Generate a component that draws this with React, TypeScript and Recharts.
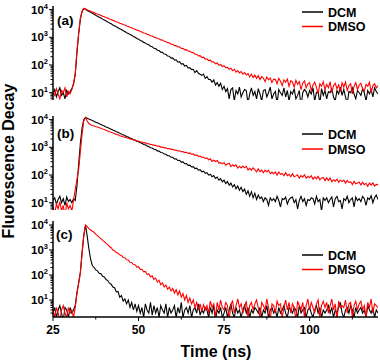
import React from 'react';
import { LineChart, Line, XAxis, YAxis } from 'recharts';

// time grid: 25 ns to 120 ns, 0.5 ns per channel
const T_START = 25;
const T_STEP = 0.5;

// (a) counts
const A_DCM = [
  9, 13, 7, 11, 15, 8, 10, 6, 12, 9,
  11, 14, 20, 45, 280, 1300, 4600, 8500, 11000, 10300,
  9350, 8600, 8000, 7330, 6810, 6250, 5800, 5320, 4950, 4530,
  4210, 3860, 3600, 3290, 3070, 2800, 2620, 2390, 2230, 2040,
  1900, 1730, 1620, 1470, 1385, 1255, 1180, 1070, 1010, 910,
  860, 770, 735, 655, 628, 558, 535, 475, 458, 403,
  392, 342, 334, 290, 286, 248, 244, 210, 208, 178,
  180, 150, 154, 126, 131, 108, 112, 92, 96, 78,
  80, 68, 70, 53, 62, 50, 46, 42, 47, 33,
  38, 30, 30, 24, 29, 19, 23, 17, 22, 13,
  17, 11, 14, 6, 13, 15, 5, 12, 9, 16,
  7, 10, 13, 12, 4, 9, 15, 8, 11, 6,
  14, 9, 5, 12, 13, 7, 10, 16, 6, 9,
  11, 4, 13, 10, 8, 15, 7, 12, 5, 11,
  9, 14, 6, 8, 12, 3, 10, 13, 11, 7,
  12, 9, 15, 5, 10, 11, 4, 14, 8, 12,
  6, 11, 10, 14, 7, 5, 12, 9, 16, 8,
  13, 7, 4, 11, 10, 15, 9, 6, 12, 10,
  8, 14, 10, 5, 12, 9, 13, 7, 15, 11,
  9,
];
const A_DMSO = [
  11, 8, 14, 9, 6, 12, 10, 15, 7, 11,
  9, 13, 22, 50, 320, 1450, 4800, 8700, 11000, 10600,
  9800, 9180, 8750, 8190, 7790, 7280, 6950, 6500, 6200, 5790,
  5530, 5150, 4930, 4590, 4390, 4080, 3910, 3640, 3490, 3240,
  3110, 2890, 2770, 2570, 2470, 2290, 2210, 2040, 1965, 1815,
  1755, 1620, 1565, 1440, 1395, 1280, 1245, 1140, 1110, 1015,
  990, 900, 885, 805, 790, 715, 705, 635, 630, 565,
  562, 502, 503, 447, 450, 396, 402, 352, 359, 313,
  318, 281, 279, 244, 245, 214, 218, 186, 192, 163,
  168, 144, 149, 127, 131, 110, 118, 98, 104, 88,
  94, 80, 82, 70, 77, 62, 70, 55, 63, 52,
  58, 47, 53, 44, 49, 37, 47, 35, 43, 33,
  41, 30, 38, 33, 25, 37, 29, 34, 23, 31,
  30, 21, 33, 26, 18, 29, 24, 31, 17, 27,
  24, 16, 28, 20, 25, 13, 22, 27, 15, 21,
  23, 12, 19, 24, 16, 9, 21, 17, 25, 13,
  20, 15, 25, 10, 18, 22, 14, 19, 11, 23,
  16, 24, 12, 18, 21, 9, 17, 23, 13, 19,
  22, 14, 11, 20, 17, 24, 10, 18, 21, 15,
  18,
];

// (b) counts
const B_DCM = [
  12, 15, 9, 13, 17, 10, 14, 8, 16, 11,
  13, 10, 14, 12, 40, 250, 1400, 5000, 10000, 12000,
  11300, 10500, 9900, 9220, 8690, 8080, 7630, 7080, 6690, 6210,
  5870, 5440, 5150, 4770, 4520, 4180, 3960, 3670, 3475, 3215,
  3050, 2815, 2675, 2465, 2350, 2160, 2060, 1890, 1810, 1655,
  1590, 1450, 1395, 1268, 1225, 1108, 1075, 970, 945, 850,
  830, 742, 730, 650, 641, 570, 563, 498, 495, 436,
  435, 380, 383, 333, 337, 291, 296, 255, 260, 223,
  228, 195, 201, 170, 177, 149, 156, 131, 137, 114,
  121, 99, 107, 86, 95, 75, 84, 65, 74, 57,
  65, 49, 58, 43, 51, 37, 45, 32, 40, 28,
  36, 25, 31, 20, 27, 17, 25, 15, 22, 13,
  19, 14, 16, 11, 15, 13, 8, 15, 12, 14,
  11, 17, 12, 7, 14, 13, 16, 9, 13, 15,
  16, 10, 13, 6, 12, 17, 11, 14, 8, 13,
  12, 15, 14, 9, 17, 11, 13, 5, 15, 12,
  15, 10, 13, 16, 7, 14, 17, 11, 12, 6,
  14, 12, 17, 10, 13, 15, 7, 16, 12, 14,
  11, 17, 14, 8, 15, 13, 18, 10, 15, 19,
  13,
];
const B_DMSO = [
  7, 4, 9, 6, 11, 5, 8, 3, 10, 6,
  8, 5, 12, 30, 70, 160, 700, 3000, 9000, 12000,
  8900, 7240, 6480, 6150, 5910, 5600, 5390, 5110, 4860, 4600,
  4380, 4100, 3910, 3650, 3490, 3270, 3140, 2930, 2820, 2630,
  2530, 2390, 2330, 2200, 2150, 2020, 1980, 1860, 1820, 1710,
  1680, 1580, 1560, 1470, 1450, 1360, 1350, 1260, 1260, 1170,
  1170, 1090, 1100, 1020, 1030, 955, 965, 895, 905, 840,
  850, 785, 800, 735, 750, 690, 705, 645, 660, 605,
  625, 560, 575, 510, 530, 470, 485, 430, 445, 395,
  412, 354, 387, 310, 340, 307, 333, 268, 279, 252,
  283, 225, 248, 265, 202, 235, 207, 231, 177, 208,
  181, 209, 181, 205, 152, 175, 151, 180, 157, 130,
  166, 131, 149, 120, 150, 129, 150, 112, 126, 112,
  130, 99, 129, 106, 113, 94, 121, 95, 106, 86,
  111, 86, 93, 102, 77, 96, 84, 102, 77, 88,
  81, 94, 71, 86, 73, 89, 67, 77, 81, 63,
  79, 63, 79, 57, 67, 60, 71, 55, 65, 58,
  65, 51, 64, 53, 57, 45, 59, 48, 51, 55,
  44, 55, 45, 50, 39, 51, 43, 52, 40, 46,
  45,
];

// (c) counts
const C_DCM = [
  3, 5, 2, 4, 6, 3, 1.5, 5, 4, 2,
  5, 3, 4, 6, 20, 50, 130, 800, 4000, 10000,
  3500, 1100, 420, 240, 200, 160, 146, 118, 112, 88,
  84, 66, 60, 47, 43, 33, 31, 21, 22, 13,
  15, 9, 11, 7, 10, 5, 8, 4, 7, 3.5,
  6, 3, 5, 2, 7, 4, 3, 8, 2.5, 6,
  3, 5, 2, 6, 4, 3, 7, 2, 5, 3,
  4, 6, 2, 5, 3, 8, 2, 4, 5, 3,
  6, 2, 4, 5, 3, 7, 2.5, 4, 3, 5,
  4, 2, 5, 3, 6, 1.5, 4, 3, 5, 2,
  3, 5, 2, 4, 7, 3, 2, 5, 3, 4,
  2, 4, 6, 3, 5, 2, 4, 3, 5, 4,
  3, 5, 2, 4, 3, 6, 2, 4, 5, 3,
  4, 2, 5, 3, 4, 6, 3, 2, 5, 4,
  3, 5, 4, 2, 6, 3, 4, 5, 2, 4,
  5, 3, 2, 4, 6, 3, 5, 2, 4, 3,
  4, 6, 3, 5, 2, 4, 3, 5, 8, 3,
  2, 4, 5, 3, 6, 4, 2, 5, 3, 4,
  5, 3, 4, 2, 6, 4, 3, 5, 2, 4,
  3,
];
const C_DMSO = [
  4, 2, 5, 3, 1.5, 4, 6, 3, 2, 5,
  3, 4, 2, 5, 18, 45, 120, 700, 3600, 10000,
  8600, 7200, 6300, 5600, 5100, 4340, 3750, 3210, 2850, 2420,
  2170, 1830, 1650, 1380, 1230, 995, 935, 790, 745, 640,
  610, 505, 490, 405, 400, 322, 318, 262, 258, 206,
  214, 166, 170, 134, 140, 106, 111, 83, 92, 67,
  75, 52, 62, 41, 48, 33, 40, 27, 33, 23,
  29, 19, 26, 16, 23, 13, 18, 10, 15, 8,
  12, 7, 10, 5, 8, 4, 7, 3.5, 6.5, 4,
  6, 3, 9, 5, 7, 2, 8, 4, 10, 5,
  4, 8, 6, 1.5, 7, 9, 3, 6, 11, 5,
  7, 3, 5, 9, 2, 6, 8, 4, 7, 10,
  5, 2, 8, 6, 4, 11, 5, 1.5, 7, 6,
  3, 9, 6, 7, 2, 5, 10, 4, 8, 3,
  7, 5, 1.5, 9, 6, 4, 8, 2, 6, 11,
  4, 8, 5, 3, 7, 10, 2, 6, 9, 5,
  8, 3, 6, 11, 4, 7, 1.5, 9, 5, 6,
  5, 10, 3, 7, 8, 2, 6, 9, 4, 7,
  9, 4, 6, 2, 8, 5, 11, 3, 7, 6,
  5,
];

const X_TICKS = [25, 37.5, 50, 62.5, 75, 87.5, 100, 112.5];
const X_LABELED = [25, 50, 75, 100];
const Y_TICKS_AB = [6, 7, 8, 9, 10, 20, 30, 40, 50, 60, 70, 80, 90, 100, 200, 300, 400, 500, 600, 700, 800, 900, 1000, 2000, 3000, 4000, 5000, 6000, 7000, 8000, 9000, 10000];
const Y_TICKS_C = [3, 4, 5, 6, 7, 8, 9, 10, 20, 30, 40, 50, 60, 70, 80, 90, 100, 200, 300, 400, 500, 600, 700, 800, 900, 1000, 2000, 3000, 4000, 5000, 6000, 7000, 8000, 9000, 10000];
const Y_DOMAIN_AB: [number, number] = [5.45, 13500];
const Y_DOMAIN_C: [number, number] = [2.09, 14450];

const SERIES_NAMES = ['DCM', 'DMSO'];
const PANEL_LABELS = ['(a)', '(b)', '(c)'];

const DATA = A_DCM.map((v, i) => ({
  t: T_START + i * T_STEP,
  aDcm: v,
  aDmso: A_DMSO[i],
  bDcm: B_DCM[i],
  bDmso: B_DMSO[i],
  cDcm: C_DCM[i],
  cDmso: C_DMSO[i],
}));

const FONT = '"Liberation Sans", Arial, sans-serif';

const YTick = (props: any) => {
  const { x, y, payload } = props;
  const v = payload.value;
  const lg = Math.log10(v);
  const exp = Math.round(lg);
  const major = Math.abs(lg - exp) < 1e-6;
  return (
    <g>
      <line x1={x - (major ? 4 : 2.5)} x2={x} y1={y} y2={y} stroke="#000" strokeWidth={1} />
      {major && (
        <text x={x - 5} y={y + 4} textAnchor="end" fontFamily={FONT} fontWeight="bold" fontSize={11.5} fill="#000">
          10<tspan fontSize={7.5} dy={-5}>{exp}</tspan>
        </text>
      )}
    </g>
  );
};

const XTick = (props: any) => {
  const { x, y, payload } = props;
  const v = payload.value;
  const major = X_LABELED.includes(v);
  return (
    <g>
      <line x1={x} x2={x} y1={y} y2={y + (major ? 4 : 2.5)} stroke="#000" strokeWidth={1} />
      {major && (
        <text x={x} y={y + 17} textAnchor="middle" fontFamily={FONT} fontWeight="bold" fontSize={12} fill="#000">
          {v}
        </text>
      )}
    </g>
  );
};

function Panel(props: {
  top: number;
  height: number;
  marginBottom: number;
  dcmKey: string;
  dmsoKey: string;
  yDomain: [number, number];
  yTicks: number[];
  showX: boolean;
}) {
  const { top, height, marginBottom, dcmKey, dmsoKey, yDomain, yTicks, showX } = props;
  return (
    <div style={{ position: 'absolute', left: 0, top, width: 380, height }}>
      <LineChart width={380} height={height} data={DATA} margin={{ top: 6, right: 2, bottom: marginBottom, left: 0 }}>
        <XAxis
          dataKey="t"
          type="number"
          domain={[25, 120]}
          allowDataOverflow
          ticks={showX ? X_TICKS : []}
          interval={0}
          tick={showX ? (p: any) => <XTick {...p} /> : false}
          tickLine={false}
          tickSize={0}
          tickMargin={0}
          height={showX ? 30 : 0}
          axisLine={{ stroke: '#000', strokeWidth: 1.5 }}
        />
        <YAxis
          type="number"
          scale="log"
          domain={yDomain}
          allowDataOverflow
          ticks={yTicks}
          interval={0}
          tick={(p: any) => <YTick {...p} />}
          tickLine={false}
          tickSize={0}
          tickMargin={0}
          width={53}
          axisLine={{ stroke: '#000', strokeWidth: 1.5 }}
        />
        <Line type="linear" dataKey={dcmKey} stroke="#000000" strokeWidth={1.1} dot={false} isAnimationActive={false} />
        <Line type="linear" dataKey={dmsoKey} stroke="#ff0000" strokeWidth={1.1} dot={false} isAnimationActive={false} />
      </LineChart>
    </div>
  );
}

function LegendBlock({ y1, y2 }: { y1: number; y2: number }) {
  return (
    <g>
      <line x1={302} x2={323} y1={y1} y2={y1} stroke="#000" strokeWidth={1.5} />
      <text x={328} y={y1 + 4.5} fontFamily={FONT} fontWeight="bold" fontSize={12.5} fill="#000">{SERIES_NAMES[0]}</text>
      <line x1={302} x2={323} y1={y2} y2={y2} stroke="#ff0000" strokeWidth={1.5} />
      <text x={328} y={y2 + 4.5} fontFamily={FONT} fontWeight="bold" fontSize={12.5} fill="#000">{SERIES_NAMES[1]}</text>
    </g>
  );
}

export default function App() {
  return (
    <div style={{ position: 'absolute', left: 0, top: 0, width: 380, height: 364, background: '#fff', overflow: 'hidden' }}>
      <Panel top={0} height={110} marginBottom={10} dcmKey="aDcm" dmsoKey="aDmso" yDomain={Y_DOMAIN_AB} yTicks={Y_TICKS_AB} showX={false} />
      <Panel top={110} height={110} marginBottom={10} dcmKey="bDcm" dmsoKey="bDmso" yDomain={Y_DOMAIN_AB} yTicks={Y_TICKS_AB} showX={false} />
      <Panel top={215} height={149} marginBottom={17} dcmKey="cDcm" dmsoKey="cDmso" yDomain={Y_DOMAIN_C} yTicks={Y_TICKS_C} showX={true} />
      <svg width={380} height={364} style={{ position: 'absolute', left: 0, top: 0, pointerEvents: 'none' }}>
        <text x={57} y={25} fontFamily={FONT} fontWeight="bold" fontSize={13.5} fill="#000">{PANEL_LABELS[0]}</text>
        <text x={57} y={138} fontFamily={FONT} fontWeight="bold" fontSize={13.5} fill="#000">{PANEL_LABELS[1]}</text>
        <text x={56} y={239} fontFamily={FONT} fontWeight="bold" fontSize={13.5} fill="#000">{PANEL_LABELS[2]}</text>
        <LegendBlock y1={12} y2={26.5} />
        <LegendBlock y1={134} y2={149} />
        <LegendBlock y1={255} y2={269.5} />
        <text x={216} y={357} textAnchor="middle" fontFamily={FONT} fontWeight="bold" fontSize={16} fill="#000">Time (ns)</text>
        <text transform="translate(14, 161) rotate(-90)" x={0} y={0} textAnchor="middle" fontFamily={FONT} fontWeight="bold" fontSize={16} fill="#000">Fluorescence Decay</text>
      </svg>
    </div>
  );
}
